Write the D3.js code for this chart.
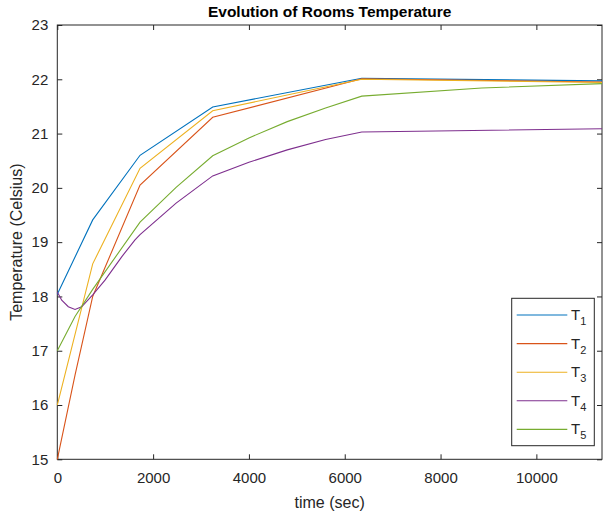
<!DOCTYPE html>
<meta charset="utf-8">
<head>
<style>
body { margin: 0; background: #fff; }
text { font-family: "Liberation Sans", Arial, sans-serif; fill: #262626; }
.tick line { stroke: #262626; }
</style>
</head>
<body>
<svg width="605" height="518"></svg>
<script src="https://cdn.jsdelivr.net/npm/d3@7"></script>
<script>

// time (sec) and temperature for each room
var t1 = [0, 739, 1727, 3244, 6355, 11370];
var T1 = [18.04, 19.41, 20.60, 21.49, 22.02, 21.97];

var t2 = [0, 370, 739, 1727, 3244, 6355, 11370];
var T2 = [15.0, 16.55, 18.0, 20.05, 21.30, 22.01, 21.95];

var t3 = [0, 739, 1727, 3244, 6355, 11370];
var T3 = [16.0, 18.60, 20.36, 21.42, 22.00, 21.94];

var t4 = [0, 92, 230, 370, 509, 739, 996, 1344, 1622, 1727, 2480, 3244, 4000, 4800, 5600, 6355, 11370];
var T4 = [18.08, 17.93, 17.81, 17.76, 17.81, 18.03, 18.30, 18.73, 19.04, 19.14, 19.72, 20.22, 20.47, 20.70, 20.89, 21.03, 21.09];

var t5 = [0, 370, 739, 1727, 2480, 3244, 4000, 4800, 5600, 6355, 8860, 11370];
var T5 = [17.0, 17.63, 18.13, 19.37, 20.01, 20.59, 20.92, 21.22, 21.47, 21.69, 21.84, 21.92];

var names = ["1", "2", "3", "4", "5"];
var colors = ["#0072BD", "#D95319", "#EDB120", "#7E2F8E", "#77AC30"];

var xTicks = [0, 2000, 4000, 6000, 8000, 10000];
var yTicks = [15, 16, 17, 18, 19, 20, 21, 22, 23];

var svg = d3.select("svg");
var pLeft = 57.3, pRight = 602, pTop = 25, pBottom = 459.3;

var x = d3.scaleLinear().domain([0, 11370]).range([pLeft, pRight]);
var y = d3.scaleLinear().domain([15, 23]).range([pBottom, pTop]);

var series = [[t1, T1], [t2, T2], [t3, T3], [t4, T4], [t5, T5]].map(function(s, i) {
  return { id: names[i], color: colors[i], pts: s[0].map(function(t, j) { return [t, s[1][j]]; }) };
});

// axes, with inward ticks on all four sides
function styleAxis(g) {
  g.select(".domain").remove();
  g.selectAll("text").style("font-size", "15px").style("fill", "#262626");
}

svg.append("g")
    .attr("transform", "translate(0," + pBottom + ")")
    .call(d3.axisBottom(x).tickValues(xTicks).tickSize(-5).tickPadding(13).tickFormat(d3.format("d")))
    .call(styleAxis);

svg.append("g")
    .attr("transform", "translate(0," + pTop + ")")
    .call(d3.axisTop(x).tickValues(xTicks).tickSize(-5).tickFormat(""))
    .call(styleAxis);

svg.append("g")
    .attr("transform", "translate(" + pLeft + ",0)")
    .call(d3.axisLeft(y).tickValues(yTicks).tickSize(-5).tickPadding(9).tickFormat(d3.format("d")))
    .call(styleAxis);

svg.append("g")
    .attr("transform", "translate(" + pRight + ",0)")
    .call(d3.axisRight(y).tickValues(yTicks).tickSize(-5).tickFormat(""))
    .call(styleAxis);

svg.append("rect")
    .attr("x", pLeft).attr("y", pTop)
    .attr("width", pRight - pLeft).attr("height", pBottom - pTop)
    .attr("fill", "none")
    .attr("stroke", "#262626")
    .attr("stroke-width", 1);

var line = d3.line()
    .x(function(d) { return x(d[0]); })
    .y(function(d) { return y(d[1]); });

svg.append("g").selectAll("path")
  .data(series)
  .enter().append("path")
    .attr("d", function(d) { return line(d.pts); })
    .attr("fill", "none")
    .attr("stroke", function(d) { return d.color; })
    .attr("stroke-width", 1.1);

// title and axis labels
svg.append("text")
    .attr("x", (pLeft + pRight) / 2).attr("y", 17)
    .attr("text-anchor", "middle")
    .style("font-size", "15.5px")
    .style("font-weight", "bold")
    .style("fill", "#000")
    .text("Evolution of Rooms Temperature");

svg.append("text")
    .attr("x", (pLeft + pRight) / 2).attr("y", 508)
    .attr("text-anchor", "middle")
    .style("font-size", "16px")
    .text("time (sec)");

svg.append("text")
    .attr("transform", "translate(22," + (pTop + pBottom) / 2 + ") rotate(-90)")
    .attr("text-anchor", "middle")
    .style("font-size", "16px")
    .text("Temperature (Celsius)");

// legend
var lg = svg.append("g");
lg.append("rect")
    .attr("x", 511.7).attr("y", 298.3)
    .attr("width", 82.6).attr("height", 147.4)
    .attr("fill", "#fff")
    .attr("stroke", "#262626")
    .attr("stroke-width", 1);

var item = lg.selectAll(".item")
  .data(series)
  .enter().append("g")
    .attr("transform", function(d, i) { return "translate(0," + (315 + i * 28.6) + ")"; });

item.append("line")
    .attr("x1", 516.7).attr("x2", 567.3)
    .attr("stroke", function(d) { return d.color; })
    .attr("stroke-width", 1.1);

var lbl = item.append("text")
    .attr("x", 571).attr("y", 5)
    .style("font-size", "15px");
lbl.append("tspan").text("T");
lbl.append("tspan").attr("dy", 5).style("font-size", "11px").text(function(d) { return d.id; });

</script>
</body>
